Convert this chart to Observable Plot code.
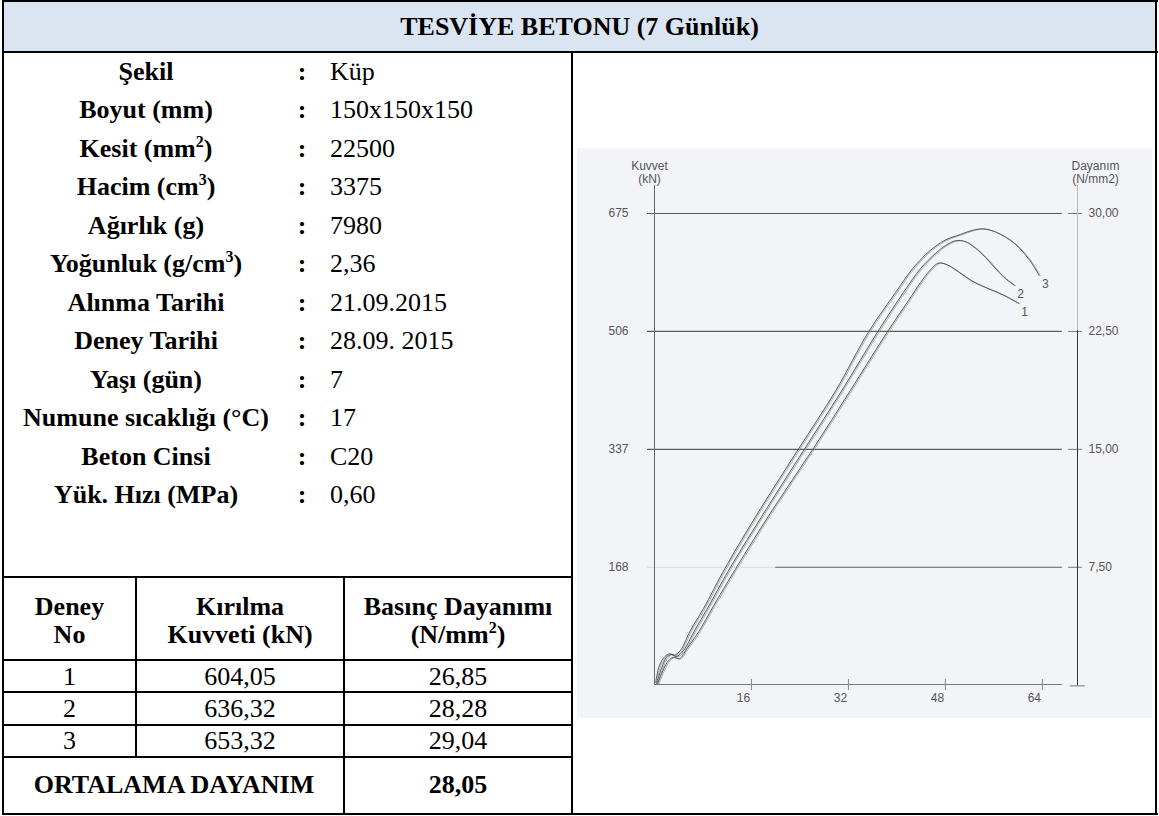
<!DOCTYPE html>
<html>
<head>
<meta charset="utf-8">
<script src="https://cdn.jsdelivr.net/npm/d3@7"></script>
<script src="https://cdn.jsdelivr.net/npm/@observablehq/plot@0.6"></script>
<style>
  body { margin: 0; background: #fff; }
  #page { position: relative; width: 1159px; height: 816px; overflow: hidden;
          font-family: "Liberation Serif", "Times New Roman", serif; color: #000; }
  .t { position: absolute; white-space: nowrap; font-size: 26px; line-height: 30px; }
  .b { font-weight: bold; }
  sup { font-size: 16px; line-height: 0; vertical-align: 10px; }
  #chart { position: absolute; left: 577px; top: 148px; }
</style>
</head>
<body>
<div id="page">
  <div id="chart"></div>
</div>
<script>
// ---------- data ----------
const title = "TESVİYE BETONU (7 Günlük)";
const infoLabels = ["Şekil", "Boyut (mm)", "Kesit (mm<sup>2</sup>)", "Hacim (cm<sup>3</sup>)", "Ağırlık (g)",
  "Yoğunluk (g/cm<sup>3</sup>)", "Alınma Tarihi", "Deney Tarihi", "Yaşı (gün)", "Numune sıcaklığı (°C)",
  "Beton Cinsi", "Yük. Hızı (MPa)"];
const infoValues = ["Küp", "150x150x150", "22500", "3375", "7980", "2,36", "21.09.2015", "28.09. 2015",
  "7", "17", "C20", "0,60"];
const headDeney = ["Deney", "No"];
const headKuvvet = ["Kırılma", "Kuvveti (kN)"];
const headDayanim = ["Basınç Dayanımı", "(N/mm<sup>2</sup>)"];
const deneyNo = [1, 2, 3];
const kirilmaKuvveti = ["604,05", "636,32", "653,32"];
const basincDayanimi = ["26,85", "28,28", "29,04"];
const ortalamaLabel = "ORTALAMA DAYANIM";
const ortalamaDeger = "28,05";

// chart
const kuvvetTicks = [168, 337, 506, 675];
const dayanimLabels = ["7,50", "15,00", "22,50", "30,00"];
const xTicks = [16, 32, 48, 64];
const leftTitle = "Kuvvet\n(kN)";
const rightTitle = "Dayanım\n(N/mm2)";
const curve1X = [0.5, 1.5, 2.3, 3.1, 4.1, 5.4, 7.4, 9.7, 13.4, 19.6, 26.2, 32.3, 38.4, 41.9, 43.9, 45.5, 46.9, 48.4, 50.2, 52.2, 54.6, 57.6, 60.1];
const curve1Y = [1, 22, 34, 39, 37, 52, 77, 112, 166, 252, 338, 421, 505, 550, 576, 594, 604, 601, 591, 579, 569, 558, 546];
const curve2X = [0.3, 1.2, 2.0, 2.8, 3.6, 4.8, 6.6, 8.8, 12.4, 18.5, 24.8, 30.9, 36.8, 41.1, 43.9, 46.4, 48.0, 49.7, 51.2, 53.0, 54.6, 57.6, 59.4];
const curve2Y = [1, 24, 39, 43, 40, 49, 77, 110, 166, 252, 338, 421, 505, 562, 596, 618, 629, 636, 635, 625, 612, 584, 572];
const curve3X = [0.2, 0.8, 1.7, 2.5, 3.3, 4.3, 5.9, 8.1, 11.6, 17.5, 23.8, 29.9, 35.3, 39.8, 42.6, 45.5, 48.0, 50.5, 52.5, 54.3, 56.4, 59.4, 61.9, 63.5];
const curve3Y = [3, 27, 40, 44, 42, 49, 77, 109, 166, 252, 338, 421, 505, 562, 596, 622, 637, 645, 651, 653, 648, 632, 608, 586];

// ---------- table ----------
const page = document.getElementById("page");
function txt(html, x, y, cls, anchor) {
  const d = document.createElement("div");
  d.className = "t " + (cls || "");
  d.innerHTML = html;
  d.style.left = x + "px";
  d.style.top = y + "px";
  d.style.transform = anchor === "start" ? "translate(0,-50%)" : "translate(-50%,-50%)";
  page.appendChild(d);
}
function box(x, y, w, h, bg) {
  const d = document.createElement("div");
  d.style.cssText = `position:absolute;left:${x}px;top:${y}px;width:${w}px;height:${h}px;background:${bg}`;
  page.appendChild(d);
}
function hl(x1, x2, y) { box(x1, y - 1, x2 - x1, 2, "#000"); }
function vl(x, y1, y2) { box(x - 1, y1, 2, y2 - y1, "#000"); }

box(3, 1, 1153, 51, "#dbe5f1");
hl(2, 1158, 1); hl(2, 1158, 814); vl(3, 0, 815); vl(1156, 0, 815);
hl(2, 1158, 52);
vl(572, 52, 815);
[577, 660, 692, 725, 757].forEach(y => hl(3, 572, y));
vl(136, 577, 757);
vl(344, 577, 815);

txt(title, 579.5, 27, "b");
infoLabels.forEach((lab, i) => {
  const y = 71.7 + i * 38.5;
  txt(lab, 146, y, "b");
  txt(":", 302, y, "b");
  txt(infoValues[i], 330, y, "", "start");
});
headDeney.forEach((s, i) => txt(s, 69.5, 607 + i * 28, "b"));
headKuvvet.forEach((s, i) => txt(s, 240, 607 + i * 28, "b"));
headDayanim.forEach((s, i) => txt(s, 458, 607 + i * 28, "b"));
deneyNo.forEach((d, i) => {
  const y = 676.5 + i * 32.3;
  txt(String(d), 69.5, y);
  txt(kirilmaKuvveti[i], 240, y);
  txt(basincDayanimi[i], 458, y);
});
txt(ortalamaLabel, 174, 785, "b");
txt(ortalamaDeger, 458, 785, "b");

// ---------- chart ----------
const curvesX = [curve1X, curve2X, curve3X];
const curvesY = [curve1Y, curve2Y, curve3Y];
const rows = [];
deneyNo.forEach((d, i) => curvesX[i].forEach((x, j) => rows.push({deney: d, x, y: curvesY[i][j]})));

const xMax = 69.8;   // right axis position in x units
const yTop = 715;    // top of the vertical axis lines in kN units
const ink = "#555";

const chart = Plot.plot({
  width: 575, height: 570,
  marginLeft: 77, marginRight: 75, marginTop: 37, marginBottom: 34,
  x: {domain: [0, xMax], axis: null},
  y: {domain: [0, 675], range: [536, 65], axis: null},
  style: {background: "#f2f4f8", fontFamily: "'Liberation Sans', Arial, sans-serif", fontSize: "12px", color: ink},
  marks: [
    Plot.ruleY(kuvvetTicks.slice(1), {x1: -1.15, x2: 67.3, stroke: "#5c5c5c", strokeWidth: 1.2}),
    Plot.ruleY(kuvvetTicks.slice(0, 1), {x1: -1.15, x2: 20, stroke: "#d6d8dc", strokeWidth: 1.2}),
    Plot.ruleY(kuvvetTicks.slice(0, 1), {x1: 20, x2: 67.3, stroke: "#5c5c5c", strokeWidth: 1.2}),
    Plot.ruleY(kuvvetTicks, {x1: 68.3, x2: 70.6, stroke: "#777"}),
    Plot.ruleX([0], {y1: 0, y2: yTop, stroke: "#666"}),
    Plot.ruleX([xMax], {y1: 507, y2: yTop, stroke: "#bbb"}),
    Plot.ruleX([xMax], {y1: -2, y2: 507, stroke: "#333"}),
    Plot.ruleY([0], {x1: 0, x2: 67.3, stroke: "#777"}),
    Plot.ruleY([-2], {x1: 68.6, x2: 71.1, stroke: "#777"}),
    Plot.ruleX(xTicks, {y1: -8.6, y2: 7.2, stroke: "#888"}),
    Plot.axisY(kuvvetTicks, {anchor: "left", label: null, tickSize: 0, tickPadding: 26, color: ink}),
    Plot.axisY(kuvvetTicks, {anchor: "right", label: null, tickSize: 0, tickPadding: 11, color: ink,
      tickFormat: d => dayanimLabels[kuvvetTicks.indexOf(d)]}),
    Plot.axisX(xTicks, {anchor: "bottom", label: null, tickSize: 0, tickPadding: 9, dx: -8, color: ink}),
    Plot.text([leftTitle], {frameAnchor: "top-left", text: d => d, textAnchor: "middle", lineAnchor: "bottom", dx: -5, dy: -3, fill: ink, lineHeight: 1.05}),
    Plot.text([rightTitle], {frameAnchor: "top-right", text: d => d, textAnchor: "middle", lineAnchor: "bottom", dx: 18, dy: -3, fill: ink, lineHeight: 1.05}),
    Plot.line(rows, {x: "x", y: "y", z: "deney", stroke: "#8a8a8a", strokeWidth: 0.7, dx: 1.3, dy: 0.4, curve: "catmull-rom"}),
    Plot.line(rows, {x: "x", y: "y", z: "deney", stroke: "#4a4a4a", strokeWidth: 0.9, curve: "catmull-rom"}),
    Plot.text(rows, Plot.selectLast({x: "x", y: "y", z: "deney", text: "deney", dx: 6, dy: 9, fill: ink, fontSize: 12}))
  ]
});
document.getElementById("chart").appendChild(chart);
</script>
</body>
</html>
